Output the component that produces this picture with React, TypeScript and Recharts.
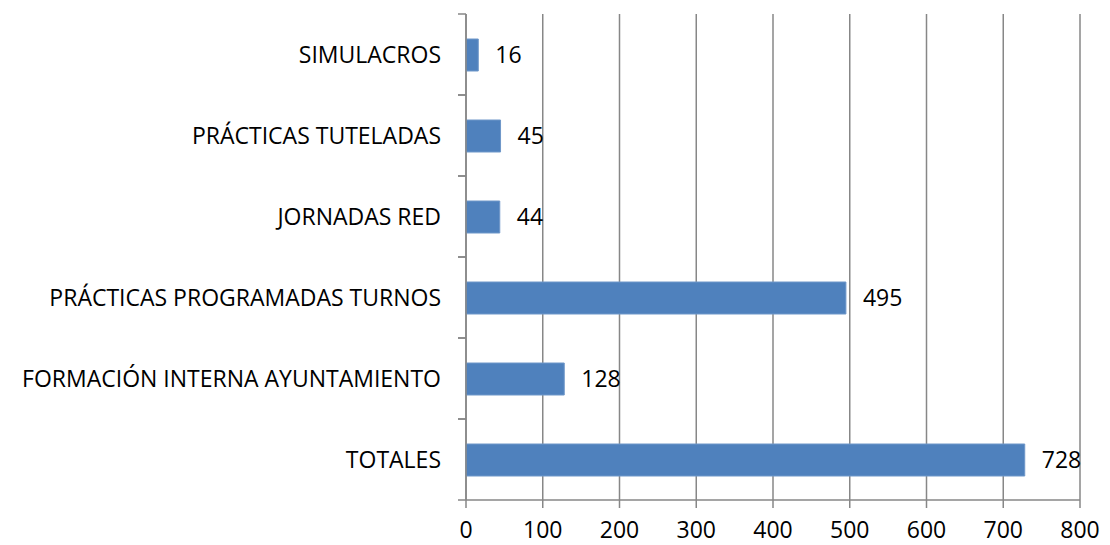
import React from "react";
import { BarChart, Bar, XAxis, YAxis, CartesianGrid, LabelList } from "recharts";

const categories = [
  "SIMULACROS",
  "PRÁCTICAS TUTELADAS",
  "JORNADAS RED",
  "PRÁCTICAS PROGRAMADAS TURNOS",
  "FORMACIÓN INTERNA AYUNTAMIENTO",
  "TOTALES",
];
const values = [16, 45, 44, 495, 128, 728];
const xTicks = [0, 100, 200, 300, 400, 500, 600, 700, 800];

const data = categories.map((name, i) => ({ name, value: values[i] }));

const WIDTH = 1110;
const HEIGHT = 545;
const MARGIN = { top: 14, right: 30, bottom: 0, left: 0 };
const X_AXIS_HEIGHT = 45;
const Y_AXIS_WIDTH = 466;
const TICK_SIZE = 8;
const TICK_MARGIN = 17;
const FONT = "'Open Sans', sans-serif";
const FONT_SIZE = 23;
const AXIS_COLOR = "#878787";
const BAND = (HEIGHT - MARGIN.top - MARGIN.bottom - X_AXIS_HEIGHT) / categories.length;

const CategoryTick = (props: any) => {
  const { x, y, payload } = props;
  const lx1 = x + TICK_MARGIN;
  const lx2 = lx1 + TICK_SIZE;
  return (
    <g>
      <line x1={lx1} x2={lx2} y1={y - BAND / 2} y2={y - BAND / 2} stroke={AXIS_COLOR} strokeWidth={1.5} />
      <line x1={lx1} x2={lx2} y1={y + BAND / 2} y2={y + BAND / 2} stroke={AXIS_COLOR} strokeWidth={1.5} />
      <text x={x} y={y} dy="0.36em" textAnchor="end" fill="#000" fontSize={FONT_SIZE} fontFamily={FONT}>
        {payload.value}
      </text>
    </g>
  );
};

export default function App() {
  return (
    <div style={{ position: "absolute", left: 0, top: 0, width: WIDTH, height: HEIGHT, background: "#fff" }}>
      <BarChart
        width={WIDTH}
        height={HEIGHT}
        data={data}
        layout="vertical"
        margin={MARGIN}
        barSize={32}
      >
        <CartesianGrid horizontal={false} vertical={true} stroke={AXIS_COLOR} strokeWidth={1.5} />
        <XAxis
          type="number"
          domain={[0, 800]}
          ticks={xTicks}
          interval={0}
          height={X_AXIS_HEIGHT}
          tickSize={TICK_SIZE}
          tickMargin={14}
          axisLine={{ stroke: AXIS_COLOR, strokeWidth: 1.5 }}
          tickLine={{ stroke: AXIS_COLOR, strokeWidth: 1.5 }}
          tick={{ fill: "#000", fontSize: FONT_SIZE, fontFamily: FONT }}
        />
        <YAxis
          type="category"
          dataKey="name"
          width={Y_AXIS_WIDTH}
          tickSize={TICK_SIZE}
          tickMargin={TICK_MARGIN}
          tickLine={false}
          axisLine={{ stroke: AXIS_COLOR, strokeWidth: 1.5 }}
          interval={0}
          tick={<CategoryTick />}
        />
        <Bar dataKey="value" fill="#4F81BD" stroke="#6f97c9" strokeWidth={1} isAnimationActive={false}>
          <LabelList
            dataKey="value"
            position="right"
            offset={17}
            fill="#000"
            fontSize={FONT_SIZE}
            fontFamily={FONT}
          />
        </Bar>
      </BarChart>
    </div>
  );
}
